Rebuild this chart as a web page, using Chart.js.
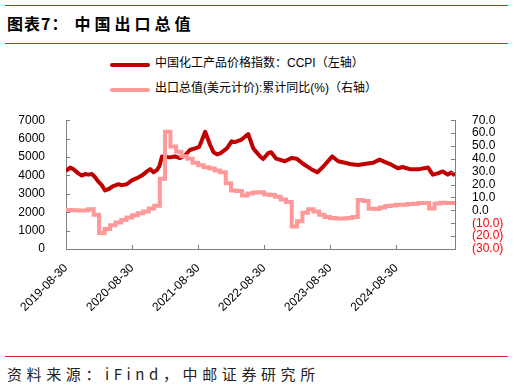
<!DOCTYPE html>
<html>
<head>
<meta charset="utf-8">
<script src="https://cdn.jsdelivr.net/npm/chart.js@4"></script>
<style>
  body { margin: 0; width: 514px; height: 391px; background: #fff; position: relative; overflow: hidden;
         font-family: "Liberation Sans", "Noto Sans CJK SC", sans-serif; color: #000; }
  .rule { position: absolute; left: 5px; width: 503px; height: 1px; background: #d9261c; }
  #title { position: absolute; left: 7px; top: 13px; font-family: "Noto Sans CJK SC"; font-weight: 700;
           font-size: 16px; line-height: 20px; white-space: nowrap; }
  #title .a { letter-spacing: 1px; }
  #title .b { letter-spacing: 4px; margin-left: 6px; }
  .leg { position: absolute; left: 110px; font-size: 12px; line-height: 14px; white-space: nowrap; }
  .leg i { position: absolute; left: 0; width: 40px; height: 4px; border-radius: 2px; }
  .leg span { position: absolute; left: 45px; top: -7px; }
  #wrap { position: absolute; left: 0; top: 100px; width: 514px; height: 254px; }
  #source { position: absolute; left: 7px; top: 365px; font-family: "Noto Sans CJK SC"; font-size: 15px;
            line-height: 18px; letter-spacing: 4.6px; white-space: nowrap; color: #222; }
</style>
</head>
<body>
<div class="rule" style="top:5px"></div>
<div id="title"><span class="a">图表7：</span><span class="b">中国出口总值</span></div>
<div class="rule" style="top:43px"></div>
<div class="leg" style="top:63px"><i style="background:#c00000"></i><span>中国化工产品价格指数：CCPI（左轴）</span></div>
<div class="leg" style="top:88px"><i style="background:#ff9999"></i><span>出口总值(美元计价):累计同比(%)（右轴）</span></div>
<div id="wrap"><canvas id="myChart"></canvas></div>
<div class="rule" style="top:356px"></div>
<div id="source">资料来源：iFind，中邮证券研究所</div>

<script>
// x axis tick labels and range
const xTickLabels = ['2019-08-30', '2020-08-30', '2021-08-30', '2022-08-30', '2023-08-30', '2024-08-30'];
const xStart = '2019-08-30';
const xEnd = '2025-07-21';

// CCPI (left axis)
const ccpiDates = [
  '2019-08-30', '2019-09-22', '2019-10-10', '2019-11-06', '2019-11-25', '2019-12-14', '2020-01-01', '2020-01-20',
  '2020-02-07', '2020-02-26', '2020-03-15', '2020-04-02', '2020-04-20', '2020-05-18', '2020-06-15', '2020-07-03',
  '2020-07-31', '2020-08-28', '2020-09-25', '2020-10-22', '2020-11-20', '2020-12-08', '2020-12-26', '2021-01-14',
  '2021-01-28', '2021-02-11', '2021-03-27', '2021-04-24', '2021-05-21', '2021-06-18', '2021-07-15', '2021-08-13',
  '2021-09-05', '2021-10-08', '2021-11-05', '2021-11-23', '2021-12-12', '2021-12-30', '2022-02-05', '2022-03-03',
  '2022-03-21', '2022-04-28', '2022-06-03', '2022-07-01', '2022-08-08', '2022-08-25', '2022-09-21', '2022-10-08',
  '2022-11-05', '2022-12-23', '2023-01-30', '2023-02-26', '2023-04-02', '2023-05-18', '2023-06-20', '2023-07-21',
  '2023-09-11', '2023-10-14', '2023-11-20', '2023-12-27', '2024-02-01', '2024-03-15', '2024-04-24', '2024-05-30',
  '2024-06-27', '2024-07-24', '2024-09-08', '2024-10-05', '2024-11-12', '2025-01-05', '2025-02-22', '2025-03-20',
  '2025-04-17', '2025-05-14', '2025-06-11', '2025-06-30', '2025-07-21'
];
const ccpiValues = [
  4250, 4425, 4340, 4110, 3990, 4080, 4040, 4080,
  3900, 3650, 3470, 3180, 3250, 3420, 3520, 3470,
  3520, 3730, 3850, 3990, 4220, 4340, 4170, 4290,
  4510, 5030, 4980, 5030, 4940, 5080, 5380, 5470,
  5550, 6370, 5640, 5260, 5150, 5200, 5470, 5850,
  5810, 5950, 6250, 5470, 5030, 4890, 5205, 5260,
  4910, 4770, 4950, 4910, 4630, 4340, 4165, 4456,
  5030, 4770, 4685, 4600, 4560, 4630, 4685, 4857,
  4735, 4630, 4390, 4456, 4340, 4340, 4425, 4040,
  4110, 4215, 4040, 4160, 4000
];

// export value, cumulative YoY % (right axis), one value per month
const exportMonths = [
  '2019-08', '2019-09', '2019-10', '2019-11', '2019-12',
  '2020-01', '2020-02', '2020-03', '2020-04', '2020-05', '2020-06', '2020-07', '2020-08', '2020-09', '2020-10', '2020-11', '2020-12',
  '2021-01', '2021-02', '2021-03', '2021-04', '2021-05', '2021-06', '2021-07', '2021-08', '2021-09', '2021-10', '2021-11', '2021-12',
  '2022-01', '2022-02', '2022-03', '2022-04', '2022-05', '2022-06', '2022-07', '2022-08', '2022-09', '2022-10', '2022-11', '2022-12',
  '2023-01', '2023-02', '2023-03', '2023-04', '2023-05', '2023-06', '2023-07', '2023-08', '2023-09', '2023-10', '2023-11', '2023-12',
  '2024-01', '2024-02', '2024-03', '2024-04', '2024-05', '2024-06', '2024-07', '2024-08', '2024-09', '2024-10', '2024-11', '2024-12',
  '2025-01', '2025-02', '2025-03', '2025-04', '2025-05', '2025-06', '2025-07'
];
const exportValues = [
  0.3, 0.0, -0.1, -0.2, 0.8,
  -3.5, -17.5, -14.5, -11.5, -9.5, -7.5, -5.5, -3.8, -2.3, -0.8, 1.5, 3.5,
  24.5, 61.0, 49.5, 45.5, 42.0, 40.0, 37.0, 35.0, 33.5, 32.5, 31.0, 29.5,
  21.0, 15.5, 15.0, 11.5, 13.0, 13.8, 14.0, 12.3, 12.0, 10.5, 8.5, 6.5,
  -12.5, -8.5, -1.8, 0.8, -0.8, -3.5, -5.2, -6.0, -6.3, -6.3, -6.0, -5.2,
  8.0, 7.2, 1.2, 1.0, 2.3, 3.3, 3.8, 4.3, 4.3, 4.9, 5.2, 5.7,
  5.7, 1.5, 5.3, 6.0, 5.8, 5.7, 5.9
];

function toDay(s) {
  const p = s.split('-').map(Number);
  return Date.UTC(p[0], p[1] - 1, p[2]) / 86400000;
}
function monthDay(s) {
  // place a monthly value at the end of its month (day 30, or last day)
  const p = s.split('-').map(Number);
  const last = new Date(Date.UTC(p[0], p[1], 0)).getUTCDate();
  return Date.UTC(p[0], p[1] - 1, Math.min(30, last)) / 86400000;
}

const ccpiPoints = ccpiDates.map((d, i) => ({ x: toDay(d), y: ccpiValues[i] }));
const exportPoints = exportMonths.map((m, i) => ({ x: monthDay(m), y: exportValues[i] }));

// tick marks pointing into the plot
const innerTicks = {
  id: 'innerTicks',
  afterDatasetsDraw(chart) {
    const { ctx, chartArea: a, scales } = chart;
    ctx.save();
    ctx.strokeStyle = '#7f7f7f';
    ctx.lineWidth = 1;
    ctx.beginPath();
    scales.y.ticks.forEach((t, i) => {
      const y = Math.round(scales.y.getPixelForTick(i)) + 0.5;
      ctx.moveTo(a.left, y); ctx.lineTo(a.left + 4, y);
    });
    scales.y1.ticks.forEach((t, i) => {
      const y = Math.round(scales.y1.getPixelForTick(i)) + 0.5;
      ctx.moveTo(a.right, y); ctx.lineTo(a.right - 4, y);
    });
    scales.x.ticks.forEach((t, i) => {
      const x = Math.round(scales.x.getPixelForTick(i)) + 0.5;
      ctx.moveTo(x, a.bottom); ctx.lineTo(x, a.bottom - 4);
    });
    ctx.stroke();
    ctx.restore();
  }
};

Chart.defaults.font.family = '"Liberation Sans", Arial, sans-serif';
Chart.defaults.font.size = 12;
Chart.defaults.color = '#000';

const ctx = document.getElementById('myChart').getContext('2d');
const myChart = new Chart(ctx, {
  type: 'line',
  data: {
    datasets: [
      {
        label: '出口总值(美元计价):累计同比(%)（右轴）',
        data: exportPoints,
        yAxisID: 'y1',
        borderColor: '#ff9999',
        borderWidth: 4,
        stepped: true,
        pointRadius: 0,
        order: 0
      },
      {
        label: '中国化工产品价格指数：CCPI（左轴）',
        data: ccpiPoints,
        yAxisID: 'y',
        borderColor: '#c00000',
        borderWidth: 4,
        tension: 0,
        pointRadius: 0,
        borderJoinStyle: 'round',
        order: 1
      }
    ]
  },
  options: {
    responsive: true,
    maintainAspectRatio: false,
    animation: false,
    layout: { padding: { top: 14, left: 0, right: 0, bottom: 0 } },
    plugins: { legend: { display: false }, tooltip: { enabled: false } },
    scales: {
      x: {
        type: 'linear',
        min: toDay(xStart),
        max: toDay(xEnd),
        afterBuildTicks: (scale) => { scale.ticks = xTickLabels.map(s => ({ value: toDay(s) })); },
        afterFit: (scale) => { scale.height = 105; },
        grid: { display: false },
        border: { display: true, color: '#7f7f7f' },
        ticks: {
          autoSkip: false,
          minRotation: 45,
          maxRotation: 45,
          padding: 4,
          callback: (v) => new Date(v * 86400000).toISOString().slice(0, 10)
        }
      },
      y: {
        position: 'left',
        min: 0,
        max: 7000,
        afterFit: (scale) => { scale.width = 66; },
        grid: { display: false },
        border: { display: true, color: '#7f7f7f' },
        ticks: { stepSize: 1000, padding: 13, autoSkip: false, callback: (v) => String(v) }
      },
      y1: {
        position: 'right',
        min: -30,
        max: 70,
        afterFit: (scale) => { scale.width = 59; },
        grid: { display: false },
        border: { display: true, color: '#7f7f7f' },
        ticks: {
          stepSize: 10,
          padding: 9,
          autoSkip: false,
          color: (c) => (c.tick && c.tick.value < 0 ? '#ff0000' : '#000'),
          callback: (v) => (v < 0 ? '(' + Math.abs(v).toFixed(1) + ')' : v.toFixed(1))
        }
      }
    }
  },
  plugins: [innerTicks]
});
</script>
</body>
</html>
